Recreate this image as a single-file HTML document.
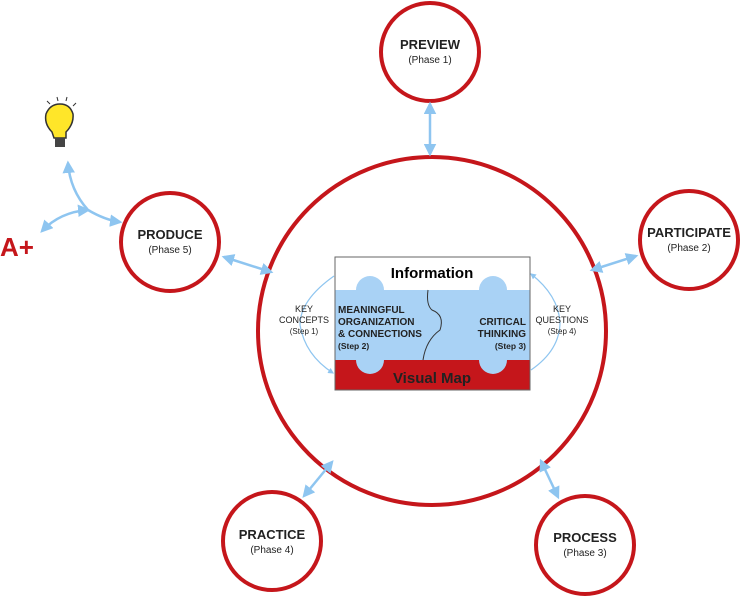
<!DOCTYPE html>
<html><head><style>body{margin:0;background:#fff}</style></head><body>
<svg width="742" height="596" viewBox="0 0 742 596" xmlns="http://www.w3.org/2000/svg" font-family="Liberation Sans, sans-serif">
<defs>
<marker id="a" viewBox="0 0 10 10" refX="8" refY="5" markerWidth="5" markerHeight="5" orient="auto-start-reverse"><path d="M0,0L10,5L0,10z" fill="#8ec5f0"/></marker>
</defs>
<g fill="#fff" stroke="#c5161b" stroke-width="4">
<circle cx="432" cy="331" r="174"/>
<circle cx="430" cy="52" r="49"/>
<circle cx="689" cy="240" r="49"/>
<circle cx="585" cy="545" r="49"/>
<circle cx="272" cy="541" r="49"/>
<circle cx="170" cy="242" r="49"/>
</g>
<g stroke="#8ec5f0" stroke-width="2.5" fill="none" marker-start="url(#a)" marker-end="url(#a)">
<line x1="430" y1="104" x2="430" y2="154"/>
<line x1="592" y1="270" x2="636" y2="256"/>
<line x1="541" y1="461" x2="558" y2="497"/>
<line x1="332" y1="462" x2="304" y2="496"/>
<line x1="224" y1="257" x2="271" y2="272"/>
<path d="M68,163 Q70,190 88,210 Q105,220 120,222"/>
<path d="M42,231 Q60,212 88,210"/>
</g>
<g stroke="#8ec5f0" stroke-width="1.2" fill="none" marker-end="url(#a)">
<path d="M334,276 Q300,300 300,325 Q305,355 333,373"/>
<path d="M531,370 Q560,350 560,322 Q558,295 531,274"/>
</g>
<!-- puzzle -->
<rect x="335" y="257" width="195" height="133" fill="#fff" stroke="#555"/>
<rect x="335" y="290" width="195" height="70" fill="#a9d2f5"/>
<circle cx="370" cy="290" r="14" fill="#a9d2f5"/><circle cx="493" cy="290" r="14" fill="#a9d2f5"/>
<rect x="335" y="360" width="195" height="30" fill="#c5161b"/>
<circle cx="370" cy="360" r="14" fill="#a9d2f5"/><circle cx="493" cy="360" r="14" fill="#a9d2f5"/>
<path d="M428,290 Q426,305 432,310 Q445,315 440,330 Q426,340 423,360" stroke="#333" fill="none"/>
<rect x="335" y="257" width="195" height="133" fill="none" stroke="#666"/>
<g font-weight="bold" text-anchor="middle">
<text x="432" y="278" font-size="15">Information</text>
<text x="432" y="383" font-size="15" fill="#222">Visual Map</text>
</g>
<g font-size="10" font-weight="bold" fill="#222">
<text x="338" y="313">MEANINGFUL</text>
<text x="338" y="325">ORGANIZATION</text>
<text x="338" y="337">&amp; CONNECTIONS</text>
<text x="338" y="349" font-size="8.5">(Step 2)</text>
<g text-anchor="end"><text x="526" y="325">CRITICAL</text><text x="526" y="337">THINKING</text><text x="526" y="349" font-size="8.5">(Step 3)</text></g>
</g>
<g font-size="9" fill="#222" text-anchor="middle">
<text x="304" y="312">KEY</text><text x="304" y="323">CONCEPTS</text><text x="304" y="334" font-size="8">(Step 1)</text>
<text x="562" y="312">KEY</text><text x="562" y="323">QUESTIONS</text><text x="562" y="334" font-size="8">(Step 4)</text>
</g>
<g text-anchor="middle" fill="#222">
<g font-size="13" font-weight="bold">
<text x="430" y="49">PREVIEW</text><text x="689" y="237">PARTICIPATE</text>
<text x="585" y="542">PROCESS</text><text x="272" y="539">PRACTICE</text><text x="170" y="239">PRODUCE</text>
</g>
<g font-size="10">
<text x="430" y="63">(Phase 1)</text><text x="689" y="251">(Phase 2)</text>
<text x="585" y="556">(Phase 3)</text><text x="272" y="553">(Phase 4)</text><text x="170" y="253">(Phase 5)</text>
</g>
</g>
<text x="0" y="256" font-size="26" font-weight="bold" fill="#c5161b">A+</text>
<!-- bulb -->
<path d="M52,132 Q44,124 46,114 Q50,104 60,104 Q70,104 73,114 Q74,124 66,132 L66,138 L54,138 Z" fill="#ffe629" stroke="#333" stroke-width="1.5"/>
<rect x="55" y="138" width="10" height="9" fill="#444"/>
<g stroke="#333" stroke-width="1"><line x1="47" y1="101" x2="50" y2="104"/><line x1="57" y1="97" x2="58" y2="101"/><line x1="67" y1="97" x2="66" y2="101"/><line x1="76" y1="103" x2="73" y2="106"/></g>
</svg>
</body></html>
